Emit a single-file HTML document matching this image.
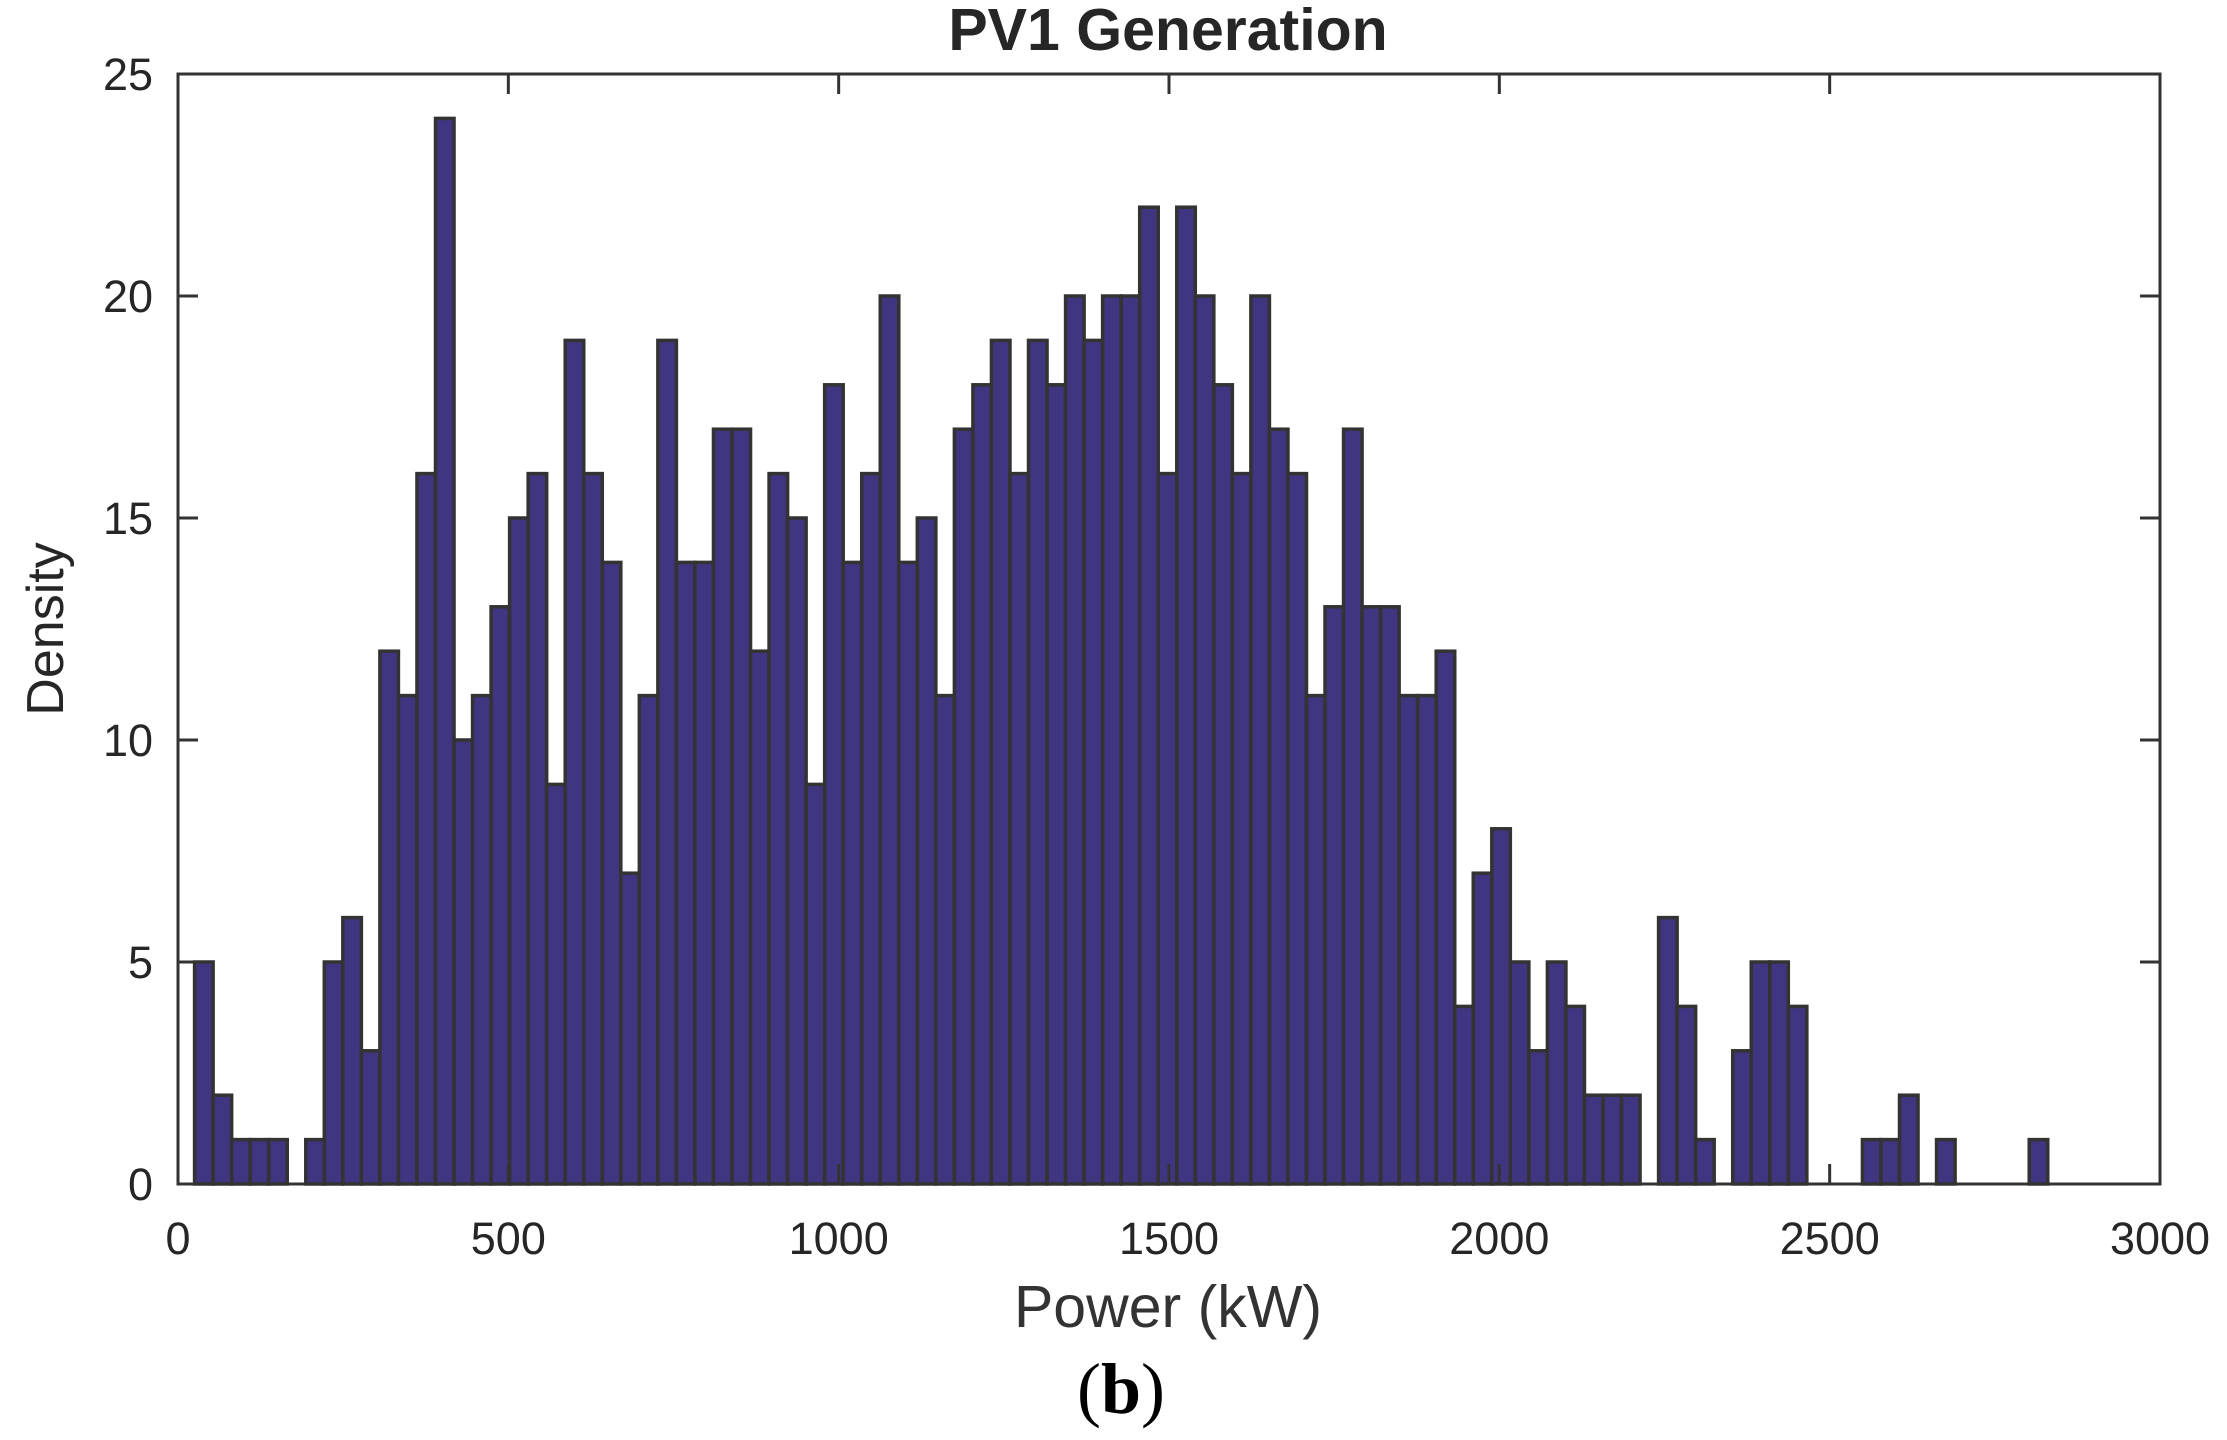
<!DOCTYPE html>
<html><head><meta charset="utf-8"><style>
html,body{margin:0;padding:0;background:#fff;}
svg{display:block;}
text{font-family:"Liberation Sans",Arial,sans-serif;fill:#262626;}
</style></head><body>
<svg id="chart" width="2227" height="1440" viewBox="0 0 2227 1440" xmlns="http://www.w3.org/2000/svg">
<text x="1168" y="50" text-anchor="middle" font-weight="bold" font-size="59">PV1 Generation</text>
<g id="bars"></g>
<g id="axes"></g>
<text x="1168" y="1327" text-anchor="middle" font-size="59" style="fill:#333">Power (kW)</text>
<text transform="translate(63,629) rotate(-90)" text-anchor="middle" font-size="52">Density</text>
<text x="1121" y="1413" text-anchor="middle" font-size="72" style="font-family:'Liberation Serif',serif;fill:#000">(<tspan font-weight="bold">b</tspan>)</text>
</svg>
<script>
const binStart = 25.1;
const binWidth = 28.05;
const counts = [5,2,1,1,1,0,1,5,6,3,12,11,16,24,10,11,13,15,16,9,19,16,14,7,11,19,14,14,17,17,12,16,15,9,18,14,16,20,14,15,11,17,18,19,16,19,18,20,19,20,20,22,16,22,20,18,16,20,17,16,11,13,17,13,13,11,11,12,4,7,8,5,3,5,4,2,2,2,0,6,4,1,0,3,5,5,4,0,0,0,1,1,2,0,1,0,0,0,0,1];
const xTicks = [0,500,1000,1500,2000,2500,3000];
const yTicks = [0,5,10,15,20,25];

const L=178, R=2160, T=74, B=1184;
const xMin=0,xMax=3000,yMin=0,yMax=25;
function xs(v){return L+(v-xMin)/(xMax-xMin)*(R-L);}
function ys(v){return B-(v-yMin)/(yMax-yMin)*(B-T);}
const NS="http://www.w3.org/2000/svg";
const bars=document.getElementById('bars');
counts.forEach(function(c,i){
  if(c<=0) return;
  const x0=xs(binStart+i*binWidth), x1=xs(binStart+(i+1)*binWidth);
  const r=document.createElementNS(NS,'rect');
  r.setAttribute('x',x0);r.setAttribute('y',ys(c));
  r.setAttribute('width',x1-x0);r.setAttribute('height',ys(0)-ys(c));
  r.setAttribute('fill','#3f3580');r.setAttribute('stroke','#333333');r.setAttribute('stroke-width','3.5');
  
  
  bars.appendChild(r);
});
const axes=document.getElementById('axes');
function line(x1,y1,x2,y2){const l=document.createElementNS(NS,'line');l.setAttribute('x1',x1);l.setAttribute('y1',y1);l.setAttribute('x2',x2);l.setAttribute('y2',y2);l.setAttribute('stroke','#333333');l.setAttribute('stroke-width','3');axes.appendChild(l);return l;}
const box=document.createElementNS(NS,'rect');
box.setAttribute('x',L);box.setAttribute('y',T);box.setAttribute('width',R-L);box.setAttribute('height',B-T);
box.setAttribute('fill','none');box.setAttribute('stroke','#333333');box.setAttribute('stroke-width','3');


axes.appendChild(box);
xTicks.forEach(function(v){
  const x=xs(v);
  const t1=line(x,B,x,B-20);
  
  
  const t2=line(x,T,x,T+20);
  
  
  const t=document.createElementNS(NS,'text');
  t.setAttribute('x',x);t.setAttribute('y',1254);t.setAttribute('text-anchor','middle');t.setAttribute('font-size','45');
  t.textContent=v;
  
  
  axes.appendChild(t);
});
yTicks.forEach(function(v){
  const y=ys(v);
  const t1=line(L,y,L+20,y);
  
  
  const t2=line(R,y,R-20,y);
  
  
  const t=document.createElementNS(NS,'text');
  t.setAttribute('x',153);t.setAttribute('y',y+16);t.setAttribute('text-anchor','end');t.setAttribute('font-size','45');
  t.textContent=v;
  
  
  axes.appendChild(t);
});
</script>
</body></html>
